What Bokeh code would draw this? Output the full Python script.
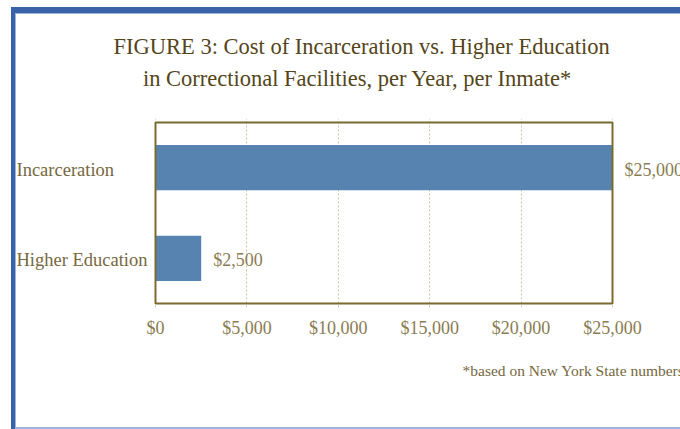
from bokeh.plotting import figure
from bokeh.layouts import column, row
from bokeh.models import (ColumnDataSource, FactorRange, Range1d, FixedTicker,
                          NumeralTickFormatter, Title, Spacer, LinearAxis)
from bokeh.core.properties import value
from bokeh.embed import file_html
from bokeh.resources import INLINE

# ---- data ----
categories = ["Higher Education", "Incarceration"]
costs = [2500, 25000]
cost_labels = ["$2,500", "$25,000"]
x_ticks = [0, 5000, 10000, 15000, 20000, 25000]
title_line1 = "FIGURE 3: Cost of Incarceration vs. Higher Education"
title_line2 = "in Correctional Facilities, per Year, per Inmate*"
footnote = "*based on New York State numbers"

# ---- style ----
SERIF = "Liberation Serif"
BAR = "#5683b0"
FRAME = "#7b6a30"
TITLE_C = "#54451a"
LABEL_C = "#76683e"
TICK_C = "#8a7c52"
GRID_C = "#cdc59a"
BLUE = "#3a62a8"
LIGHT_BLUE = "#9db6dc"

W, H = 664, 413          # figure size
BOX_L, BOX_R = 139, 596  # olive box position inside the canvas (px)
BOX_T, BOX_B = 106, 291
PAD = 2                  # frame padding around the box (px)
TITLE2_CENTER = 341      # canvas x of the centre of the 2nd title line

px_per_unit = (BOX_R - BOX_L) / (x_ticks[-1] - x_ticks[0])
x_start = x_ticks[0] - BOX_L / px_per_unit
x_end = x_ticks[-1] + (W - BOX_R) / px_per_unit
cat_px = (BOX_B - BOX_T) / len(categories)
title2_x = round(x_start + TITLE2_CENTER / px_per_unit)

source = ColumnDataSource(dict(cat=categories, val=costs, lab=cost_labels,
                               start=[x_start] * len(categories)))

p = figure(width=W, height=H, output_backend="svg", toolbar_location=None,
           y_range=FactorRange(factors=categories,
                               range_padding=2 * PAD / cat_px,
                               range_padding_units="absolute"),
           x_range=Range1d(x_start, x_end),
           min_border_left=0, min_border_right=0,
           min_border_top=BOX_T - PAD, min_border_bottom=H - (BOX_B + PAD))

p.background_fill_color = "white"
p.border_fill_color = "white"
p.outline_line_color = None

p.xgrid.ticker = FixedTicker(ticks=x_ticks)
p.xgrid.grid_line_color = GRID_C
p.xgrid.grid_line_dash = "2 2"
p.xgrid.grid_line_width = 1
p.ygrid.visible = False
p.yaxis.visible = False

p.hbar(y="cat", right="val", left=0, height=0.5, source=source,
       fill_color=BAR, line_color=None)

# olive box around the value area
p.quad(left=x_ticks[0], right=x_ticks[-1], bottom=0, top=len(categories),
       fill_color=None, line_color=FRAME, line_width=2)

# category labels, left aligned at the left edge
p.text(x="start", y="cat", text="cat", source=source, text_align="left",
       text_baseline="middle", y_offset=2, text_font=value(SERIF),
       text_font_size="18.5px", text_color=LABEL_C)
# value labels
p.text(x="val", y="cat", text="lab", source=source, text_align="left",
       text_baseline="middle", x_offset=12, y_offset=2, text_font=value(SERIF),
       text_font_size="18px", text_color=TICK_C)

xa = p.xaxis[0]
xa.ticker = FixedTicker(ticks=x_ticks)
xa.formatter = NumeralTickFormatter(format="$0,0")
xa.axis_line_color = None
xa.major_tick_line_color = None
xa.major_tick_out = 0
xa.major_tick_in = 0
xa.minor_tick_line_color = None
xa.major_label_standoff = 10
xa.major_label_text_font = SERIF
xa.major_label_text_font_size = "18px"
xa.major_label_text_color = TICK_C

# second title line: a label of an axis above the frame
top_axis = LinearAxis(ticker=FixedTicker(ticks=[title2_x]),
                      major_label_overrides={title2_x: title_line2},
                      axis_line_color=None, major_tick_line_color=None,
                      minor_tick_line_color=None, major_tick_in=0,
                      major_tick_out=0, major_label_standoff=28,
                      major_label_text_font=SERIF,
                      major_label_text_font_size="22.5px",
                      major_label_text_color=TITLE_C)
p.add_layout(top_axis, "above")
# first title line
p.add_layout(Title(text=title_line1, align="left", offset=97, standoff=8,
                   text_font=SERIF, text_font_size="22.5px",
                   text_font_style="normal", text_color=TITLE_C), "above")
# footnote
p.add_layout(Title(text=footnote, align="left", offset=446, standoff=38,
                   text_font=SERIF, text_font_size="15.5px",
                   text_font_style="normal", text_color=LABEL_C), "below")

# blue page border built from spacers
def bar(w, h, color=None):
    s = Spacer(width=w, height=h)
    if color:
        s.styles = {"background-color": color}
    return s

layout = column(
    bar(680, 7),
    row(bar(11, 6), bar(669, 6, BLUE)),
    row(bar(11, 1), bar(4, 1, BLUE), bar(665, 1, LIGHT_BLUE)),
    row(bar(11, H), bar(4, H, BLUE), bar(1, H, LIGHT_BLUE), p),
    row(bar(11, 2), bar(4, 2, BLUE), bar(665, 2, LIGHT_BLUE)),
)

open("out.html", "w").write(file_html(layout, INLINE))
